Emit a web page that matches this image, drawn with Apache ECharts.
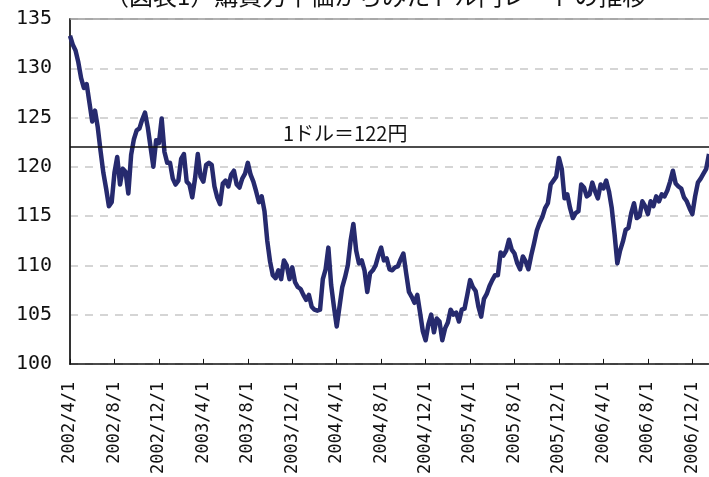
<!DOCTYPE html>
<html>
<head>
<meta charset="utf-8">
<script src="https://cdn.jsdelivr.net/npm/echarts@6/dist/echarts.min.js"></script>
<style>
  html, body { margin: 0; padding: 0; background: #fff; }
  #main { width: 709px; height: 477px; }
</style>
</head>
<body>
<div id="main"></div>
<script>
// ドル円レート（円/ドル）、2002/4/1 から約1/4ヶ月ごとに読み取り
var rates = [
  133.3, 132.4, 131.8, 130.6, 129.0, 128.0, 128.4, 126.5, 124.6, 125.7,
  124.0, 121.6, 119.4, 117.8, 116.0, 116.4, 119.4, 121.0, 118.2, 119.8,
  119.5, 117.3, 121.2, 122.8, 123.7, 123.9, 124.8, 125.5, 124.0, 122.0,
  120.0, 122.7, 122.4, 124.9, 121.5, 120.4, 120.4, 118.8, 118.2, 118.6,
  120.8, 121.3, 118.5, 118.2, 116.9, 118.8, 121.3, 119.0, 118.5, 120.2,
  120.4, 120.2, 118.0, 116.9, 116.2, 118.3, 118.6, 118.0, 119.2, 119.6,
  118.2, 117.9, 118.8, 119.3, 120.4, 119.2, 118.5, 117.5, 116.4, 117.0,
  115.5, 112.5, 110.4, 109.0, 108.7, 109.5, 108.6, 110.5, 110.0, 108.6,
  109.8, 108.3, 107.8, 107.6, 107.0, 106.5, 107.0, 105.8, 105.5, 105.4,
  105.5, 108.6, 109.6, 111.8, 108.0, 105.8, 103.8, 105.8, 107.8, 108.8,
  110.0, 112.5, 114.2, 111.5, 110.2, 110.5, 109.5, 107.3, 109.2, 109.5,
  110.0, 111.0, 111.8, 110.5, 110.7, 109.6, 109.5, 109.8, 109.9, 110.6,
  111.2, 109.2, 107.3, 106.8, 106.2, 107.0, 105.2, 103.3, 102.4, 104.0,
  105.0, 103.2, 104.6, 104.3, 102.4, 103.6, 104.2, 105.5, 105.0, 105.2,
  104.3, 105.5, 105.6, 107.0, 108.5, 107.8, 107.4, 105.8, 104.8, 106.6,
  107.1, 107.9, 108.5, 109.0, 109.0, 111.3, 111.0, 111.5, 112.6, 111.6,
  111.2, 110.2, 109.6, 110.9, 110.4, 109.6, 111.0, 112.2, 113.5, 114.3,
  114.9, 115.8, 116.3, 118.2, 118.6, 119.0, 120.9, 119.8, 116.8, 117.2,
  115.8, 114.8, 115.3, 115.5, 118.2, 117.9, 117.0, 117.2, 118.4, 117.5,
  116.8, 118.2, 117.8, 118.6, 117.5, 115.8, 113.2, 110.2, 111.5, 112.4,
  113.6, 113.8, 115.3, 116.3, 114.8, 115.0, 116.5, 116.0, 115.2, 116.5,
  116.0, 117.0, 116.5, 117.2, 117.0, 117.6, 118.5, 119.6, 118.3, 118.0,
  117.8, 116.9, 116.5, 115.8, 115.2, 117.0, 118.4, 118.8, 119.3, 119.8,
  121.3
];
var steps = rates.map(function (v, i) { return i; });
var tickLabels = ['2002/4/1', '2002/8/1', '2002/12/1', '2003/4/1', '2003/8/1',
  '2003/12/1', '2004/4/1', '2004/8/1', '2004/12/1', '2005/4/1', '2005/8/1',
  '2005/12/1', '2006/4/1', '2006/8/1', '2006/12/1'];
var ticksEvery = 16;   // 4ヶ月 = 16 ステップ
var parityRate = 122;
var parityLabel = '1ドル＝122円';
var titleText = '（図表1）購買力平価からみたドル円レートの推移';

var chart = echarts.init(document.getElementById('main'));
chart.setOption({
  animation: false,
  title: {
    text: titleText,
    left: 100,
    top: -21,
    textStyle: { fontFamily: 'Noto Sans CJK JP', fontSize: 24, fontWeight: 'normal', color: '#111' }
  },
  grid: { left: 70, right: 0, top: 19, bottom: 111 },
  xAxis: {
    type: 'category',
    data: steps,
    boundaryGap: false,
    axisLine: { lineStyle: { color: '#111', width: 1.5 } },
    axisTick: {
      inside: true, length: 5,
      interval: function (idx) { return idx % ticksEvery === 0; },
      lineStyle: { color: '#111' }
    },
    axisLabel: {
      rotate: 90,
      margin: 18,
      interval: function (idx) { return idx % ticksEvery === 0; },
      formatter: function (v, idx) { return tickLabels[idx / ticksEvery] || ''; },
      fontFamily: 'DejaVu Sans Mono',
      fontSize: 17,
      color: '#111'
    },
    splitLine: { show: false }
  },
  yAxis: {
    type: 'value',
    min: 100, max: 135, interval: 5,
    axisLine: { show: true, lineStyle: { color: '#333', width: 2 } },
    axisTick: { show: false },
    axisLabel: { fontFamily: 'DejaVu Sans Mono', fontSize: 20, color: '#111', margin: 18 },
    splitLine: { lineStyle: { color: '#c8c8c8', width: 1.5, type: [8, 7] } }
  },
  series: [{
    type: 'line',
    data: rates,
    showSymbol: false,
    lineStyle: { color: '#262a6e', width: 4.5, join: 'round' },
    itemStyle: { color: '#262a6e' },
    z: 3,
    markLine: {
      silent: true,
      symbol: 'none',
      data: [
        {
          yAxis: parityRate,
          lineStyle: { color: '#111', width: 1.5, type: 'solid' },
          label: {
            show: true,
            position: 'insideStartTop',
            distance: [213, 4],
            formatter: parityLabel,
            fontFamily: 'Noto Sans CJK JP',
            fontSize: 20,
            color: '#111'
          }
        },
        {
          yAxis: 135,
          lineStyle: { color: '#999', width: 1.5, type: 'solid' },
          label: { show: false }
        }
      ]
    }
  }]
});
</script>
</body>
</html>
